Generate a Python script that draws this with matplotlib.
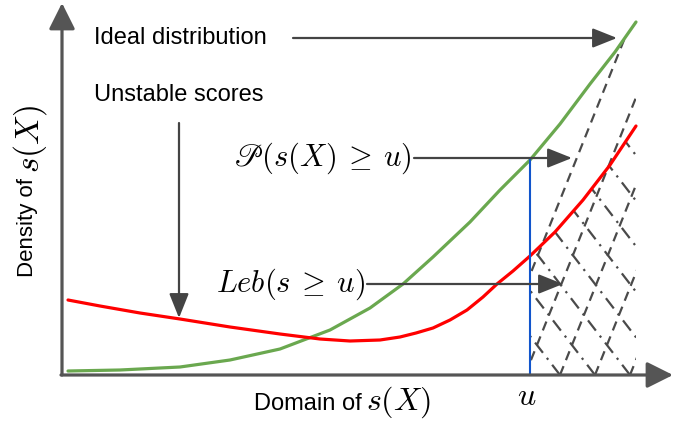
import matplotlib
matplotlib.use("Agg")
import matplotlib.pyplot as plt
import numpy as np
from matplotlib.patches import Polygon

plt.rcParams["font.family"] = ["Liberation Sans", "DejaVu Sans"]
plt.rcParams["mathtext.fontset"] = "cm"

################################################################
##### values (x = domain of s(X), y = density)

# ideal distribution (green)
green_x = [6, 58, 118, 168, 218, 268, 308, 341, 371, 408, 438, 468, 498, 528, 553, 574]
green_y = [4, 5, 8, 15, 26, 45, 67, 91, 118, 153, 185, 215, 251, 291, 323, 353]

# unstable scores (red)
red_x = [6, 38, 78, 118, 168, 218, 258, 288, 318, 338, 354, 371, 388, 405, 421, 435, 451, 468, 493, 521, 548, 574]
red_y = [75, 69, 62, 56, 48, 41, 36, 34, 35, 38, 42, 47, 55, 65, 78, 91, 104, 119, 143, 175, 210, 249]

# threshold u and end of the drawn domain
U = 468
X_END = 574

# where the hatch lines meet the domain axis
hatch_fwd = [428, 463, 498, 533, 568]
hatch_back = [463, 498, 533, 568, 603, 638, 673, 708, 743, 778]

################################################################

AX_COLOR = "#555555"
ARROW_COLOR = "#444444"
GREEN = "#6aa84f"
RED = "#ff0000"
BLUE = "#1155cc"


def region_under(xs, ys, ax):
    """clip polygon below a curve, right of u"""
    xs = np.asarray(xs)
    ys = np.asarray(ys)
    y_u = np.interp(U, xs, ys)
    keep = xs > U
    verts = [(U, 0), (U, y_u)] + list(zip(xs[keep], ys[keep])) + [(X_END, 0)]
    patch = Polygon(verts, closed=True, facecolor="none", edgecolor="none", transform=ax.transData)
    ax.add_patch(patch)
    return patch


def arrow(ax, start, end, color=ARROW_COLOR, lw=1.6, hl=0.75, hw=0.3, ms=20):
    ax.annotate("", xy=end, xytext=start,
                arrowprops=dict(arrowstyle=f"-|>,head_length={hl},head_width={hw}",
                                color=color, lw=lw, shrinkA=0, shrinkB=0,
                                mutation_scale=ms))


def main():
    fig = plt.figure(figsize=(6.97, 4.21), dpi=100)
    ax = fig.add_axes([0, 0, 1, 1])
    ax.set_xlim(-62, 635)
    ax.set_ylim(-46, 375)
    ax.axis("off")

    # hatching of the tail region
    clip_g = region_under(green_x, green_y, ax)
    clip_r = region_under(red_x, red_y, ax)
    for x0 in hatch_fwd:
        xs = np.array([x0, x0 + 160])
        ln, = ax.plot(xs, 2.5 * (xs - x0), color="#4a4a4a", lw=1.6, dashes=(4.3, 2.9))
        ln.set_clip_path(clip_g)
    for x0 in hatch_back:
        xs = np.array([x0, x0 - 320])
        ln, = ax.plot(xs, 1.3 * (x0 - xs), color="#4a4a4a", lw=1.6, dashes=(5.8, 2.9, 1.0, 2.9))
        ln.set_clip_path(clip_r)

    # curves
    ax.plot(green_x, green_y, color=GREEN, lw=2.3, solid_capstyle="round", solid_joinstyle="round")
    ax.plot(red_x, red_y, color=RED, lw=2.3, solid_capstyle="round", solid_joinstyle="round")
    y_u = np.interp(U, green_x, green_y)
    ax.plot([U, U], [0, y_u], color=BLUE, lw=1.5)

    # axes with arrow heads
    arrow(ax, (0, 0), (0, 372), color=AX_COLOR, lw=2.3, hl=0.8, hw=0.4)
    arrow(ax, (-1, 0), (611, 0), color=AX_COLOR, lw=2.3, hl=0.8, hw=0.4)

    # annotations
    ax.text(32, 337, "Ideal distribution", fontsize=17, va="center", ha="left")
    arrow(ax, (231, 337), (555, 337))
    ax.text(32, 280, "Unstable scores", fontsize=17, va="center", ha="left")
    arrow(ax, (117, 252), (117, 57))

    ax.text(350, 217, r"$\mathscr{P}(s(X)\:\geq\:u)$", fontsize=22, va="center", ha="right")
    arrow(ax, (352, 217), (510, 217))
    ax.text(303, 91, r"$Leb(s\:\geq\:u)$", fontsize=22, va="center", ha="right")
    arrow(ax, (305, 91), (501, 91))

    # axis labels
    ax.text(465, -22, r"$u$", fontsize=23, va="center", ha="center")
    ax.text(300, -29, "Domain of", fontsize=17, va="center", ha="right")
    ax.text(304, -27, r"$s(X)$", fontsize=23, va="center", ha="left")
    ax.text(-34, 197, "Density of", fontsize=16, va="center", ha="right", rotation=90,
            rotation_mode="anchor")
    ax.text(-32, 202, r"$s(X)$", fontsize=24, va="center", ha="left", rotation=90,
            rotation_mode="anchor")

    fig.savefig("out.png", dpi=100)
    plt.close(fig)


if __name__ == "__main__":
    main()
